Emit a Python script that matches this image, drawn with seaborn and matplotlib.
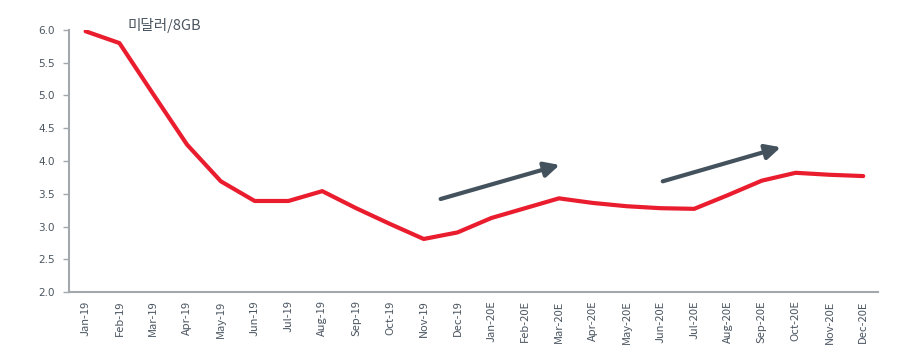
import matplotlib
matplotlib.use("Agg")
import matplotlib.pyplot as plt
import pandas as pd
import seaborn as sns

months = ["Jan-19", "Feb-19", "Mar-19", "Apr-19", "May-19", "Jun-19", "Jul-19", "Aug-19",
          "Sep-19", "Oct-19", "Nov-19", "Dec-19", "Jan-20E", "Feb-20E", "Mar-20E", "Apr-20E",
          "May-20E", "Jun-20E", "Jul-20E", "Aug-20E", "Sep-20E", "Oct-20E", "Nov-20E", "Dec-20E"]
price = [5.98, 5.80, 5.02, 4.25, 3.69, 3.39, 3.39, 3.54, 3.28, 3.04, 2.81, 2.91,
         3.13, 3.28, 3.43, 3.36, 3.31, 3.28, 3.27, 3.48, 3.70, 3.82, 3.79, 3.77]
unit_label = "미달러/8GB"

# trend arrows (start x, start y, end x, end y) in data units
arrows = [(10.5, 3.42, 14.02, 3.94), (17.07, 3.69, 20.56, 4.21)]

sns.set_style("white")
plt.rcParams["font.family"] = ["Noto Sans CJK KR", "DejaVu Sans"]

df = pd.DataFrame({"x": range(len(months)), "price": price})

fig = plt.figure(figsize=(9.04, 3.61), dpi=100)
ax = fig.add_axes([0.076, 0.191, 0.895, 0.726])

sns.lineplot(data=df, x="x", y="price", color="#ea1d2f", linewidth=3.0, ax=ax)

for x0, y0, x1, y1 in arrows:
    ax.annotate("", xy=(x1, y1), xytext=(x0, y0),
                arrowprops=dict(arrowstyle="-|>,head_length=0.9,head_width=0.45",
                                color="#44525e", lw=3.0, capstyle="round",
                                shrinkA=0, shrinkB=0))

ax.set_xlim(-0.5, 23.43)
ax.set_ylim(2.0, 6.0)
ax.set_yticks([2.0, 2.5, 3.0, 3.5, 4.0, 4.5, 5.0, 5.5, 6.0])
ax.set_yticklabels([f"{v:.1f}" for v in ax.get_yticks()], family="DejaVu Sans")
ax.set_xticks(range(len(months)))
ax.set_xticklabels(months, rotation=90)
ax.set_xlabel("")
ax.set_ylabel("")

for side in ["top", "right"]:
    ax.spines[side].set_visible(False)
for side in ["left", "bottom"]:
    ax.spines[side].set_color("#a3a8ad")
    ax.spines[side].set_linewidth(1.5)

ax.tick_params(axis="y", length=4, width=1, color="#a3a8ad", labelsize=7.5,
               labelcolor="#4a5560", pad=6, left=True)
ax.tick_params(axis="x", length=0, labelsize=8, labelcolor="#4a5560", pad=6)

fig.text(0.141, 0.93, unit_label, fontsize=10.5, color="#4a5560", va="center", ha="left")

fig.savefig("out.png", dpi=100)
